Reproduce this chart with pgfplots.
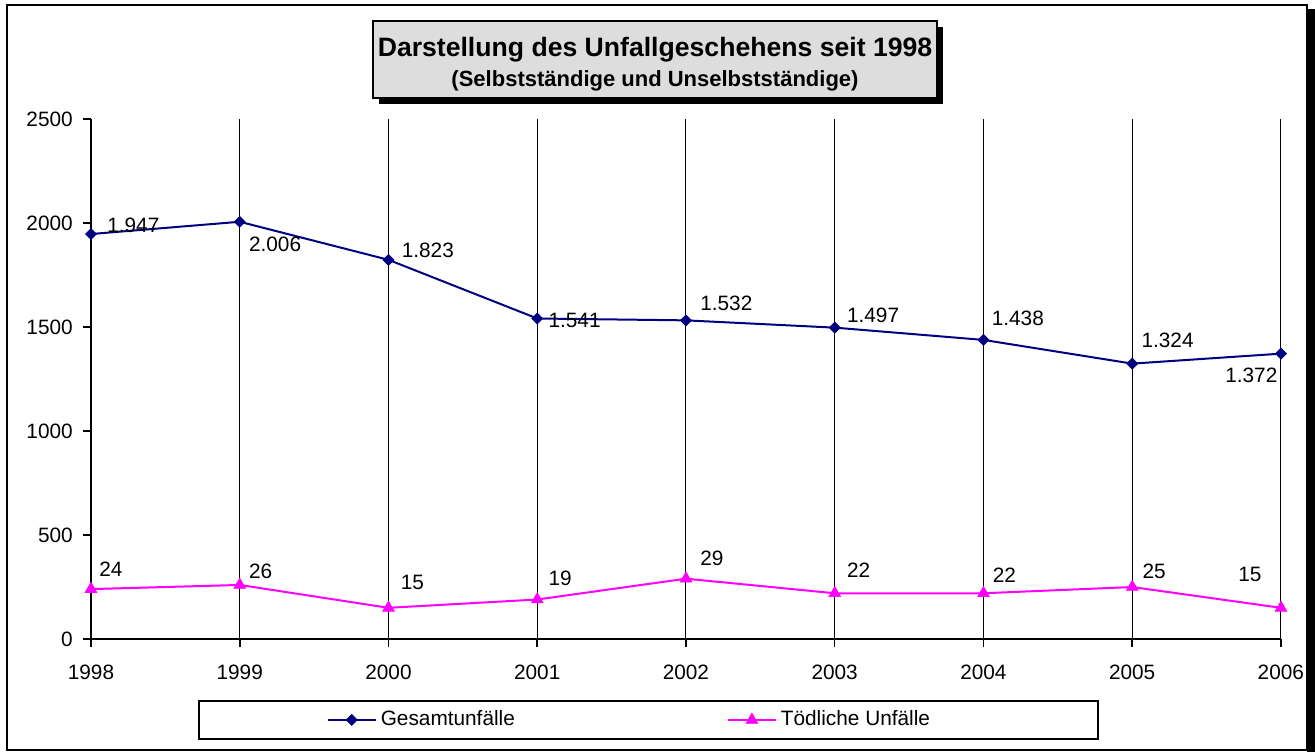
\documentclass[border=0pt]{standalone}
\usepackage{pgfplots}
\usepackage{pgfplotstable}
\pgfplotsset{compat=1.18}
\usepackage{fontspec}
\setmainfont{Liberation Sans}
\definecolor{navyline}{RGB}{0,0,128}
\definecolor{magline}{RGB}{255,0,255}
\definecolor{titlegray}{RGB}{221,221,221}
\newcommand{\lblfont}{\fontsize{10.4}{12}\selectfont}

% x: Jahr, y: Wert, lab: Beschriftung, xs/ys: Versatz der Beschriftung in pt
\pgfplotstableread{
x    y    lab    xs    ys
1998 1947 1.947  8     4.25
1999 2006 2.006  4.5   -11.25
2000 1823 1.823  6.5   4.5
2001 1541 1.541  5.5   -1
2002 1532 1.532  7     8.5
2003 1497 1.497  6     6
2004 1438 1.438  4     11
2005 1324 1.324  4.5   11.75
2006 1372 1.372  -28   -11
}\gesamt

% Tödliche Unfälle: im Diagramm mit Faktor 10 dargestellt
\pgfplotstableread{
x    y    lab  xs    ys
1998 240  24   4     9.75
1999 260  26   4.5   7
2000 150  15   6     12.5
2001 190  19   5.5   10.5
2002 290  29   7     10
2003 220  22   6     11.5
2004 220  22   4.5   9.25
2005 250  25   5     7.75
2006 150  15   -21.5 16.5
}\toedlich

\begin{document}
\begin{tikzpicture}
\begin{scope}[x=0.5pt,y=-0.5pt]
\useasboundingbox (0,0) rectangle (1315,752);
\fill[black] (1307,9) rectangle (1315,752);
\draw[line width=1pt] (7,5) rectangle (1307,750);
% Titelbox
\fill[black] (379,27) rectangle (943,104);
\filldraw[fill=titlegray, draw=black, line width=0.8pt] (373,21) rectangle (937,98);
\node[anchor=base, font=\bfseries\fontsize{13.3}{15}\selectfont, inner sep=0pt] at (655,56) {Darstellung des Unfallgeschehens seit 1998};
\node[anchor=base, font=\bfseries\fontsize{11}{13}\selectfont, inner sep=0pt] at (655,86) {(Selbstständige und Unselbstständige)};
\end{scope}
\begin{axis}[
  at={(45.5pt,-319.5pt)}, anchor=south west,
  scale only axis, width=595pt, height=260pt,
  xmin=1998, xmax=2006, ymin=0, ymax=2500,
  axis x line*=bottom, axis y line*=left,
  axis line style={line width=0.9pt, black},
  xtick={1998,...,2006}, ytick={0,500,...,2500},
  tick align=outside, major tick length=4pt,
  tick style={black, line width=0.8pt},
  xmajorgrids, major grid style={black, line width=0.5pt},
  /pgf/number format/assume math mode=true,
  /pgf/number format/1000 sep={},
  tick label style={font=\lblfont},
  xticklabel style={yshift=-5.6pt},
  yticklabel style={xshift=-1.6pt},
  clip=false,
  legend columns=2,
  legend cell align=left,
  legend style={at={(0.0899,-0.1173)}, anchor=north west, draw=black, line width=0.8pt,
    inner xsep=64pt, inner ysep=3pt, font=\lblfont,
    /tikz/every even column/.append style={column sep=104pt}},
  legend image code/.code={\draw[mark repeat=2,mark phase=2] plot coordinates {(0pt,0pt) (12pt,0pt) (24pt,0pt)};},
  point meta=explicit symbolic,
  visualization depends on={\thisrow{xs} \as \xs},
  visualization depends on={\thisrow{ys} \as \ys},
  every node near coord/.append style={anchor=west, inner sep=0pt, text=black, font=\lblfont, xshift=\xs*1pt, yshift=\ys*1pt},
]
\addplot[navyline, line width=1pt, mark=square*, mark size=1.95pt,
  mark options={rotate=45, fill=navyline, solid, line width=0.3pt},
  nodes near coords] table[x=x, y=y, meta=lab]{\gesamt};
\addlegendentry{Gesamtunfälle}
\addplot[magline, line width=1pt, mark=triangle*, mark size=3.4pt,
  mark options={fill=magline, solid, line width=0.3pt},
  nodes near coords] table[x=x, y=y, meta=lab]{\toedlich};
\addlegendentry{Tödliche Unfälle\hspace*{18pt}}
\end{axis}
\end{tikzpicture}
\end{document}
